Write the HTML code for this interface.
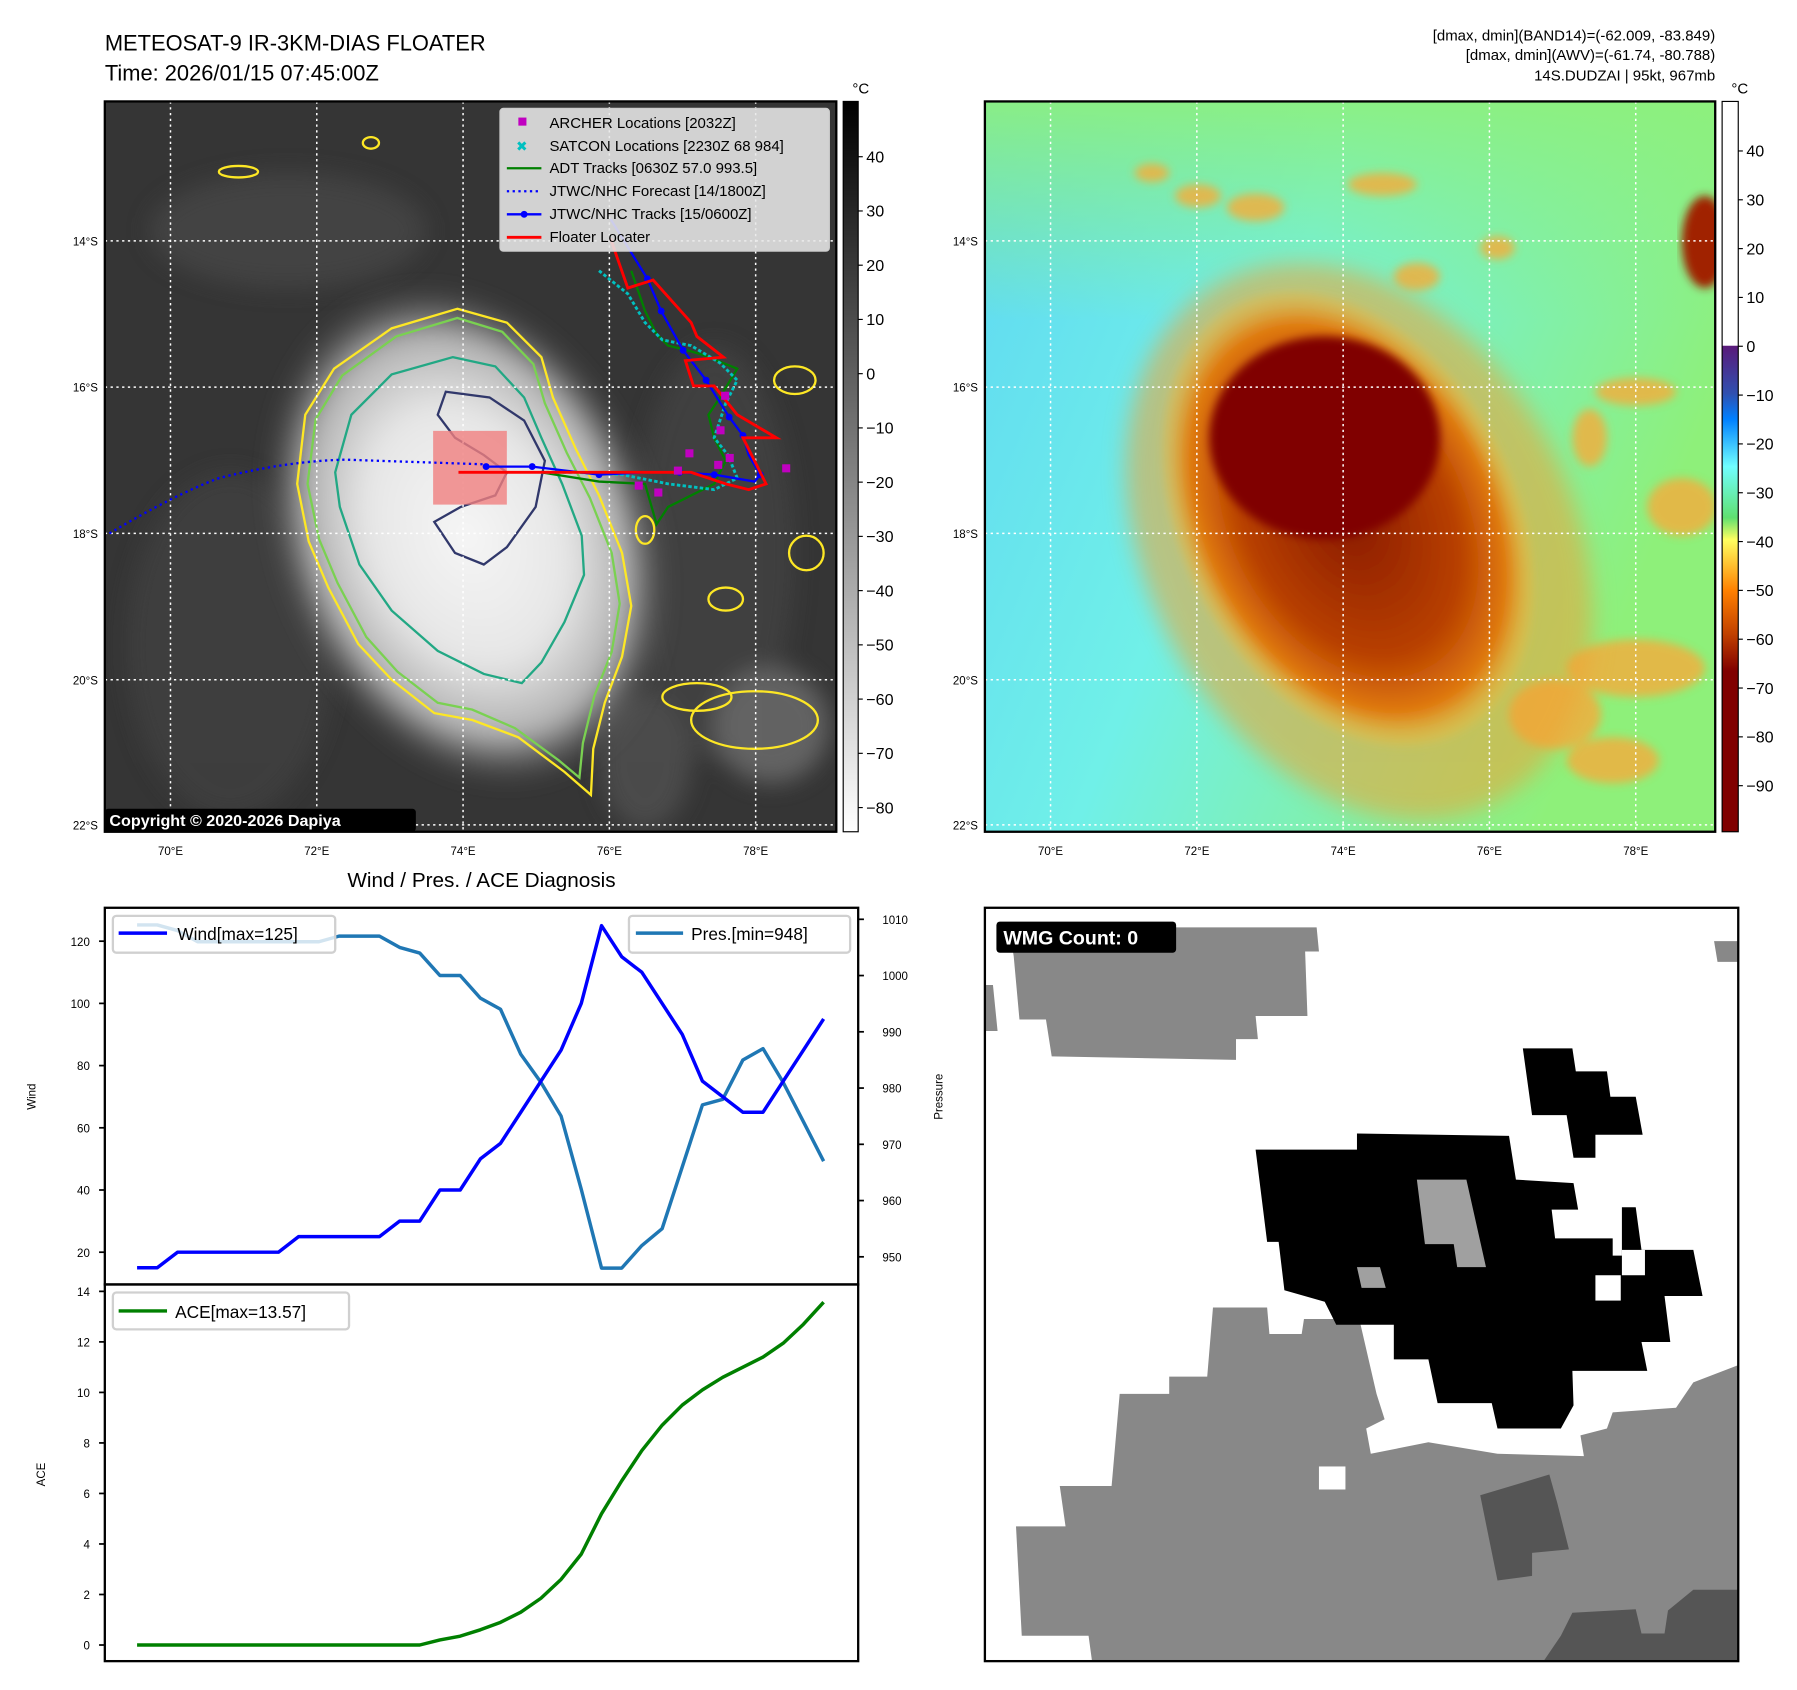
<!DOCTYPE html>
<html><head><meta charset="utf-8"><style>
html,body{margin:0;padding:0;background:#fff;}
svg{display:block;font-family:"Liberation Sans","DejaVu Sans",sans-serif;}
</style></head><body>
<svg id="root" width="1797" height="1690" viewBox="0 0 1560 1467" xmlns="http://www.w3.org/2000/svg">
<defs>
<radialGradient id="stormL" cx="0.5" cy="0.5" r="0.5">
<stop offset="0" stop-color="#f6f6f6"/><stop offset="0.5" stop-color="#e6e6e6"/><stop offset="0.8" stop-color="#b0b0b0"/><stop offset="1" stop-color="#5a5a5a" stop-opacity="0"/>
</radialGradient>
<linearGradient id="bgR" x1="0" y1="0" x2="1" y2="0.4">
<stop offset="0" stop-color="#5fd8f2"/><stop offset="0.45" stop-color="#70f0e8"/><stop offset="1" stop-color="#8ef07a"/>
</linearGradient>
<linearGradient id="bgRtop" x1="0" y1="0" x2="0" y2="1">
<stop offset="0" stop-color="#8ef07a" stop-opacity="0.9"/><stop offset="0.3" stop-color="#8ef07a" stop-opacity="0"/>
</linearGradient>
<radialGradient id="stormR" cx="0.5" cy="0.5" r="0.5">
<stop offset="0" stop-color="#8a1a00"/><stop offset="0.6" stop-color="#b84000"/><stop offset="0.85" stop-color="#e07a10"/><stop offset="1" stop-color="#f0c040" stop-opacity="0.3"/>
</radialGradient>
<linearGradient id="cb1" x1="0" y1="0" x2="0" y2="1"><stop offset="0" stop-color="#000"/><stop offset="1" stop-color="#fff"/></linearGradient>
<linearGradient id="cb2" x1="0" y1="0" x2="0" y2="1">
<stop offset="0" stop-color="#fff"/><stop offset="0.334" stop-color="#fff"/>
<stop offset="0.335" stop-color="#5a1a7a"/><stop offset="0.40" stop-color="#3050b0"/><stop offset="0.435" stop-color="#0080ff"/>
<stop offset="0.50" stop-color="#70ffff"/><stop offset="0.57" stop-color="#60e070"/><stop offset="0.60" stop-color="#ffff60"/>
<stop offset="0.67" stop-color="#ff8000"/><stop offset="0.73" stop-color="#c04000"/><stop offset="0.78" stop-color="#800000"/><stop offset="1" stop-color="#800000"/>
</linearGradient>
<filter id="blur4"><feGaussianBlur stdDeviation="4"/></filter>
<filter id="blur10"><feGaussianBlur stdDeviation="10"/></filter>
<clipPath id="clipL"><rect x="91" y="88" width="635" height="634"/></clipPath>
<clipPath id="clipR"><rect x="855" y="88" width="634" height="634"/></clipPath>
<clipPath id="clipB"><rect x="855" y="788" width="654" height="654"/></clipPath>
</defs>

<!-- Titles -->
<text x="91" y="44" font-size="19">METEOSAT-9 IR-3KM-DIAS FLOATER</text>
<text x="91" y="70" font-size="19">Time: 2026/01/15 07:45:00Z</text>
<g font-size="13" text-anchor="end">
<text x="1489" y="35">[dmax, dmin](BAND14)=(-62.009, -83.849)</text>
<text x="1489" y="52">[dmax, dmin](AWV)=(-61.74, -80.788)</text>
<text x="1489" y="70">14S.DUDZAI | 95kt, 967mb</text>
</g>

<!-- LEFT MAP -->
<g clip-path="url(#clipL)">
<rect x="91" y="88" width="635" height="634" fill="#353535"/>
<g filter="url(#blur10)" opacity="0.7">
<ellipse cx="250" cy="200" rx="120" ry="50" fill="#4a4a4a"/>
<ellipse cx="620" cy="480" rx="70" ry="180" fill="#444"/>
<ellipse cx="670" cy="630" rx="50" ry="50" fill="#777"/>
<ellipse cx="200" cy="560" rx="90" ry="150" fill="#424242"/>
<ellipse cx="560" cy="660" rx="40" ry="60" fill="#555"/>
</g>
<ellipse cx="405" cy="465" rx="165" ry="225" transform="rotate(-22 405 465)" fill="url(#stormL)" filter="url(#blur10)"/>
<path d="M397,268 L440,280 L470,310 L480,345 L500,390 L520,430 L540,480 L548,526 L540,570 L525,610 L515,650 L513,690 L490,670 L450,640 L410,625 L377,619 L340,590 L311,559 L285,510 L268,470 L258,420 L265,360 L290,320 L340,285 Z" fill="none" stroke="#fde725" stroke-width="2"/>
<path d="M397,276 L436,288 L463,316 L473,350 L492,393 L512,432 L531,480 L538,524 L531,566 L516,604 L506,645 L503,675 L485,660 L447,632 L410,616 L380,610 L345,583 L318,553 L293,506 L277,468 L267,420 L274,364 L297,326 L344,292 Z" fill="none" stroke="#7ad151" stroke-width="2"/>
<path d="M393,310 L430,318 L455,345 L470,380 L488,420 L505,465 L507,499 L490,540 L470,575 L453,593 L420,585 L380,565 L340,530 L312,490 L295,440 L291,410 L305,360 L340,325 Z" fill="none" stroke="#22a884" stroke-width="2"/>
<path d="M387,340 L425,345 L455,365 L473,400 L465,440 L440,475 L420,490 L395,480 L377,453 L400,440 L430,430 L440,410 L420,395 L395,380 L380,360 Z" fill="none" stroke="#31386b" stroke-width="2"/>
<g stroke="#fde725" stroke-width="2" fill="none">
<ellipse cx="207" cy="149" rx="17" ry="5"/><ellipse cx="322" cy="124" rx="7" ry="5"/><ellipse cx="605" cy="605" rx="30" ry="12"/><ellipse cx="655" cy="625" rx="55" ry="25"/><ellipse cx="690" cy="330" rx="18" ry="12"/><ellipse cx="560" cy="460" rx="8" ry="12"/><ellipse cx="700" cy="480" rx="15" ry="15"/><ellipse cx="630" cy="520" rx="15" ry="10"/>
</g>
<g stroke="#ffffff" stroke-width="1.3" stroke-dasharray="2,3" fill="none">
<line x1="148" y1="88" x2="148" y2="722"/><line x1="275" y1="88" x2="275" y2="722"/><line x1="402" y1="88" x2="402" y2="722"/><line x1="529" y1="88" x2="529" y2="722"/><line x1="656" y1="88" x2="656" y2="722"/>
<line x1="91" y1="209" x2="726" y2="209"/><line x1="91" y1="336" x2="726" y2="336"/><line x1="91" y1="463" x2="726" y2="463"/><line x1="91" y1="590" x2="726" y2="590"/><line x1="91" y1="716" x2="726" y2="716"/>
</g>
<rect x="376" y="374" width="64" height="64" fill="#f08080" opacity="0.8"/>
<path d="M95,463 Q150,430 190,415 Q250,400 300,399 L420,403" fill="none" stroke="#0000ff" stroke-width="2" stroke-dasharray="2,3"/>
<polyline points="548,235 560,270 570,290 580,300 600,305 610,308 640,320 625,345 615,360 620,380 630,400 620,420 580,440 570,455 560,420 520,418 470,410" fill="none" stroke="#008000" stroke-width="2"/>
<polyline points="520,235 545,255 560,280 575,295 600,300 625,315 640,330 630,350 620,380 632,395 640,415 620,425 580,420 540,412 500,410 470,410" fill="none" stroke="#00c0c0" stroke-width="2.5" stroke-dasharray="3,2"/>
<polyline points="530,190 562,242 574,270 593,304 613,330 633,362 645,378 650,395 660,412 655,418 620,412 590,410 560,410 520,412 462,405 422,405" fill="none" stroke="#0000ff" stroke-width="2"/>
<g fill="#0000ff"><circle cx="562" cy="242" r="3"/><circle cx="574" cy="270" r="3"/><circle cx="593" cy="304" r="3"/><circle cx="613" cy="330" r="3"/><circle cx="633" cy="362" r="3"/><circle cx="645" cy="378" r="3"/><circle cx="660" cy="412" r="3"/><circle cx="620" cy="412" r="3"/><circle cx="590" cy="410" r="3"/><circle cx="520" cy="412" r="3"/><circle cx="462" cy="405" r="3"/><circle cx="422" cy="405" r="3"/></g>
<polyline points="530,207 545,250 567,243 600,280 605,292 628,310 595,313 602,335 620,335 640,360 674,380 645,380 660,410 665,420 650,425 630,420 600,410 560,410 520,410 450,410 398,410" fill="none" stroke="#ff0000" stroke-width="2.5"/>
<g fill="#c000c0"><rect x="551" y="418" width="7" height="7"/><rect x="568" y="424" width="7" height="7"/><rect x="595" y="390" width="7" height="7"/><rect x="622" y="370" width="7" height="7"/><rect x="630" y="394" width="7" height="7"/><rect x="620" y="400" width="7" height="7"/><rect x="679" y="403" width="7" height="7"/><rect x="585" y="405" width="7" height="7"/><rect x="626" y="340" width="7" height="7"/></g>
</g>
<rect x="91" y="88" width="635" height="634" fill="none" stroke="#000" stroke-width="2"/>
<!-- legend -->
<g>
<rect x="434" y="94" width="286" height="124" rx="3" fill="#e8e8e8" fill-opacity="0.88" stroke="#ccc"/>
<g font-size="13">
<rect x="450" y="102" width="7" height="7" fill="#c000c0"/><text x="477" y="111">ARCHER Locations [2032Z]</text>
<text x="448" y="131" fill="#00c0c0" font-weight="bold" font-size="12">✖</text><text x="477" y="131">SATCON Locations [2230Z 68 984]</text>
<line x1="440" y1="146" x2="470" y2="146" stroke="#008000" stroke-width="2"/><text x="477" y="150">ADT Tracks [0630Z 57.0 993.5]</text>
<line x1="440" y1="166" x2="470" y2="166" stroke="#0000ff" stroke-width="2" stroke-dasharray="2,3"/><text x="477" y="170">JTWC/NHC Forecast [14/1800Z]</text>
<line x1="440" y1="186" x2="470" y2="186" stroke="#0000ff" stroke-width="2"/><circle cx="455" cy="186" r="3" fill="#0000ff"/><text x="477" y="190">JTWC/NHC Tracks [15/0600Z]</text>
<line x1="440" y1="206" x2="470" y2="206" stroke="#ff0000" stroke-width="2.5"/><text x="477" y="210">Floater Locater</text>
</g></g>
<rect x="91" y="702" width="270" height="20" rx="3" fill="#000"/>
<text x="95" y="717" font-size="14" font-weight="bold" fill="#fff">Copyright © 2020-2026 Dapiya</text>

<g font-size="10">
<g text-anchor="end"><text x="85" y="213">14°S</text><text x="85" y="340">16°S</text><text x="85" y="467">18°S</text><text x="85" y="594">20°S</text><text x="85" y="720">22°S</text></g>
<g text-anchor="middle"><text x="148" y="742">70°E</text><text x="275" y="742">72°E</text><text x="402" y="742">74°E</text><text x="529" y="742">76°E</text><text x="656" y="742">78°E</text></g>
</g>
<rect x="732" y="88" width="13" height="634" fill="url(#cb1)" stroke="#000" stroke-width="1"/>
<text x="740" y="81" font-size="13">°C</text>
<g id="cb1ticks" font-size="14"></g>

<!-- RIGHT MAP -->
<g clip-path="url(#clipR)">
<rect x="855" y="88" width="634" height="634" fill="url(#bgR)"/>
<rect x="855" y="88" width="634" height="634" fill="url(#bgRtop)"/>
<g filter="url(#blur4)" fill="#f0b040" opacity="0.85">
<ellipse cx="1000" cy="150" rx="15" ry="8"/><ellipse cx="1040" cy="170" rx="20" ry="10"/><ellipse cx="1090" cy="180" rx="25" ry="12"/><ellipse cx="1200" cy="160" rx="30" ry="10"/><ellipse cx="1230" cy="240" rx="20" ry="12"/><ellipse cx="1300" cy="215" rx="15" ry="10"/>
<ellipse cx="1420" cy="340" rx="35" ry="12"/><ellipse cx="1460" cy="440" rx="30" ry="25"/><ellipse cx="1380" cy="380" rx="15" ry="25"/><ellipse cx="1420" cy="580" rx="60" ry="25"/><ellipse cx="1350" cy="620" rx="40" ry="30"/><ellipse cx="1400" cy="660" rx="40" ry="20"/>
</g>
<ellipse cx="1480" cy="210" rx="20" ry="40" fill="#a02000" filter="url(#blur4)"/>
<ellipse cx="1180" cy="470" rx="185" ry="255" transform="rotate(-28 1180 470)" fill="#f2a030" opacity="0.55" filter="url(#blur10)"/>
<ellipse cx="1170" cy="450" rx="145" ry="210" transform="rotate(-28 1170 450)" fill="url(#stormR)" filter="url(#blur4)"/>
<ellipse cx="1150" cy="380" rx="100" ry="88" fill="#800000" filter="url(#blur4)"/>
<g stroke="#ffffff" stroke-width="1.3" stroke-dasharray="2,3" fill="none">
<line x1="912" y1="88" x2="912" y2="722"/><line x1="1039" y1="88" x2="1039" y2="722"/><line x1="1166" y1="88" x2="1166" y2="722"/><line x1="1293" y1="88" x2="1293" y2="722"/><line x1="1420" y1="88" x2="1420" y2="722"/>
<line x1="855" y1="209" x2="1489" y2="209"/><line x1="855" y1="336" x2="1489" y2="336"/><line x1="855" y1="463" x2="1489" y2="463"/><line x1="855" y1="590" x2="1489" y2="590"/><line x1="855" y1="716" x2="1489" y2="716"/>
</g>
</g>
<rect x="855" y="88" width="634" height="634" fill="none" stroke="#000" stroke-width="2"/>
<g font-size="10">
<g text-anchor="end"><text x="849" y="213">14°S</text><text x="849" y="340">16°S</text><text x="849" y="467">18°S</text><text x="849" y="594">20°S</text><text x="849" y="720">22°S</text></g>
<g text-anchor="middle"><text x="912" y="742">70°E</text><text x="1039" y="742">72°E</text><text x="1166" y="742">74°E</text><text x="1293" y="742">76°E</text><text x="1420" y="742">78°E</text></g>
</g>
<rect x="1495" y="88" width="14" height="634" fill="url(#cb2)" stroke="#000" stroke-width="1"/>
<text x="1503" y="81" font-size="13">°C</text>
<g id="cb2ticks" font-size="14"></g>

<!-- WIND/PRES/ACE -->
<text x="418" y="770" font-size="18" text-anchor="middle">Wind / Pres. / ACE Diagnosis</text>
<g id="chart"></g>
<rect x="91" y="788" width="654" height="327" fill="none" stroke="#000" stroke-width="2"/>
<rect x="91" y="1115" width="654" height="327" fill="none" stroke="#000" stroke-width="2"/>
<text transform="translate(31,952) rotate(-90)" font-size="10" text-anchor="middle">Wind</text>
<text transform="translate(818,952) rotate(-90)" font-size="10" text-anchor="middle">Pressure</text>
<text transform="translate(39,1280) rotate(-90)" font-size="10" text-anchor="middle">ACE</text>
<g font-size="15">
<g><rect x="98" y="795" width="193" height="32" rx="3" fill="#fff" fill-opacity="0.8" stroke="#d0d0d0" stroke-width="2"/><line x1="103" y1="810" x2="145" y2="810" stroke="#0000ff" stroke-width="3"/><text x="154" y="816">Wind[max=125]</text></g>
<g><rect x="546" y="795" width="192" height="32" rx="3" fill="#fff" fill-opacity="0.8" stroke="#d0d0d0" stroke-width="2"/><line x1="552" y1="810" x2="593" y2="810" stroke="#1f77b4" stroke-width="3"/><text x="600" y="816">Pres.[min=948]</text></g>
<g><rect x="98" y="1122" width="205" height="32" rx="3" fill="#fff" fill-opacity="0.8" stroke="#d0d0d0" stroke-width="2"/><line x1="103" y1="1138" x2="145" y2="1138" stroke="#008000" stroke-width="3"/><text x="152" y="1144">ACE[max=13.57]</text></g>
</g>

<!-- WMG panel -->
<g clip-path="url(#clipB)">
<rect x="855" y="788" width="654" height="654" fill="#fff"/>
<g fill="#888">
<polygon points="876,805 1143,805 1145,826 1133,826 1135,882 1090,882 1092,902 1073,902 1073,920 913,917 908,885 885,885 880,830"/>
<polygon points="855,855 862,855 866,895 855,895"/>
<polygon points="1488,817 1509,817 1509,835 1491,835"/>
<polygon points="1053,1135 1100,1135 1102,1158 1130,1158 1132,1145 1180,1145 1195,1210 1202,1232 1186,1240 1190,1262 1240,1252 1300,1262 1375,1264 1372,1246 1395,1240 1400,1226 1455,1222 1470,1200 1509,1185 1509,1442 948,1442 945,1420 887,1420 882,1325 925,1325 920,1290 965,1290 972,1210 1015,1210 1015,1195 1048,1195"/>
</g>
<rect x="1145" y="1273" width="23" height="20" fill="#fff"/>
<g fill="#555">
<polygon points="1285,1298 1345,1280 1352,1305 1362,1345 1330,1348 1330,1368 1300,1372"/>
<polygon points="1340,1442 1355,1420 1365,1400 1420,1397 1425,1418 1445,1418 1448,1398 1470,1380 1509,1380 1509,1442"/>
</g>
<g fill="#000">
<polygon points="1090,998 1178,998 1178,984 1310,986 1316,1024 1366,1027 1370,1050 1347,1050 1350,1075 1400,1075 1400,1090 1408,1090 1408,1048 1420,1048 1425,1085 1470,1085 1478,1125 1445,1125 1450,1165 1425,1165 1430,1190 1365,1190 1366,1220 1355,1240 1300,1240 1295,1218 1248,1218 1240,1180 1210,1180 1210,1150 1160,1150 1150,1130 1115,1120 1110,1078 1100,1078"/>
<polygon points="1322,910 1365,910 1368,930 1395,930 1398,952 1420,952 1426,985 1385,985 1385,1005 1366,1005 1360,968 1330,968"/>
</g>
<g fill="#fff"><rect x="1408" y="1085" width="20" height="22"/><rect x="1385" y="1107" width="22" height="22"/></g>
<g fill="#a0a0a0"><polygon points="1230,1024 1273,1024 1290,1100 1265,1100 1262,1080 1237,1080"/><polygon points="1178,1100 1198,1100 1203,1118 1182,1118"/></g>
</g>
<rect x="855" y="788" width="654" height="654" fill="none" stroke="#000" stroke-width="2"/>
<rect x="865" y="800" width="156" height="27" rx="3" fill="#000"/>
<text x="871" y="820" font-size="17" font-weight="bold" fill="#fff">WMG Count: 0</text>
</svg>
<script>
const NS='http://www.w3.org/2000/svg';
const windVals=[15,15,20,20,20,20,20,20,25,25,25,25,25,30,30,40,40,50,55,65,75,85,100,125,115,110,100,90,75,70,65,65,75,85,95];
const presVals=[1009,1009,1008,1006,1006,1006,1006,1006,1006,1006,1007,1007,1007,1005,1004,1000,1000,996,994,986,981,975,962,948,948,952,955,966,977,978,985,987,981,974,967];
const aceVals=[0,0,0,0,0,0,0,0,0,0,0,0,0,0,0,0.2,0.35,0.6,0.9,1.3,1.85,2.6,3.6,5.2,6.5,7.7,8.7,9.5,10.1,10.6,11.0,11.4,11.95,12.7,13.57];
const windTicks=[20,40,60,80,100,120];
const presTicks=[950,960,970,980,990,1000,1010];
const aceTicks=[0,2,4,6,8,10,12,14];
const irCbTicks=[40,30,20,10,0,-10,-20,-30,-40,-50,-60,-70,-80];
const awvCbTicks=[40,30,20,10,0,-10,-20,-30,-40,-50,-60,-70,-80,-90];

const xS=i=>119+i*(596/(windVals.length-1));
const yW=v=>1087-(v-20)*2.7;
const yP=p=>1091-(p-950)*(293/60);
const yA=a=>1428-a*(307/14);
const yCb1=t=>136+(40-t)*(565/120);
const yCb2=t=>131+(40-t)*(551/130);

const chart=document.getElementById('chart');
function mk(tag,attrs,parent){const e=document.createElementNS(NS,tag);for(const k in attrs)e.setAttribute(k,attrs[k]);(parent||chart).appendChild(e);return e;}
function line(vals,yf,color,name){
  const pts=vals.map((v,i)=>xS(i).toFixed(1)+','+yf(v).toFixed(1)).join(' ');
  const p=mk('polyline',{points:pts,fill:'none',stroke:color,'stroke-width':3,'stroke-linejoin':'round'});
  
  
}
function ticks(list,yf,side,name){
  const g=mk('g',{'font-size':10});
  
  
  list.forEach(t=>{
    const y=yf(t);
    if(side==='left'){
      mk('line',{x1:86,x2:91,y1:y,y2:y,stroke:'#000','stroke-width':1.5},g);
      const tx=mk('text',{x:78,y:y+4,'text-anchor':'end'},g);tx.textContent=t;
    }else{
      mk('line',{x1:745,x2:750,y1:y,y2:y,stroke:'#000','stroke-width':1.5},g);
      const tx=mk('text',{x:766,y:y+4},g);tx.textContent=t;
    }
  });
}
ticks(windTicks,yW,'left','wind-y-axis');
ticks(presTicks,yP,'right','pressure-y-axis');
ticks(aceTicks,yA,'left','ace-y-axis');
line(presVals,yP,'#1f77b4','pressure-line');
line(windVals,yW,'#0000ff','wind-line');
line(aceVals,yA,'#008000','ace-line');

function cbTicks(id,list,yf,x0){
  const g=document.getElementById(id);
  list.forEach(t=>{
    const y=yf(t);
    mk('line',{x1:x0,x2:x0+4,y1:y,y2:y,stroke:'#000','stroke-width':1},g);
    const tx=mk('text',{x:x0+7,y:y+5},g);
    tx.textContent=(t<0?'\u2212'+(-t):t);
  });
}
cbTicks('cb1ticks',irCbTicks,yCb1,745);
cbTicks('cb2ticks',awvCbTicks,yCb2,1509);
</script>
</body></html>
